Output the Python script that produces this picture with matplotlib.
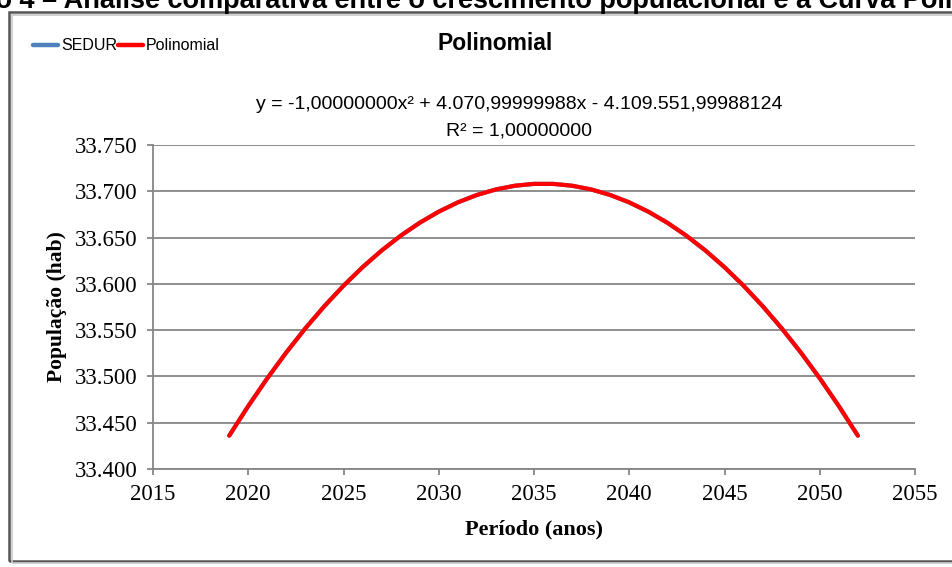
import matplotlib.pyplot as plt
from matplotlib.patches import Rectangle
from matplotlib.ticker import FuncFormatter, MultipleLocator

# Data (projecao populacional por ano)
anos = [2019, 2020, 2021, 2022, 2023, 2024, 2025, 2026, 2027, 2028, 2029, 2030,
        2031, 2032, 2033, 2034, 2035, 2036, 2037, 2038, 2039, 2040, 2041, 2042,
        2043, 2044, 2045, 2046, 2047, 2048, 2049, 2050, 2051, 2052]
sedur = [33436, 33468, 33498, 33526, 33552, 33576, 33598, 33618, 33636, 33652,
         33666, 33678, 33688, 33696, 33702, 33706, 33708, 33708, 33706, 33702,
         33696, 33688, 33678, 33666, 33652, 33636, 33618, 33598, 33576, 33552,
         33526, 33498, 33468, 33436]
polinomial = list(sedur)

equacao = "y = -1,00000000x² + 4.070,99999988x - 4.109.551,99988124"
r2 = "R² = 1,00000000"

serif = ["Liberation Serif", "DejaVu Serif"]
sans = ["Liberation Sans", "DejaVu Sans"]

fig = plt.figure(figsize=(9.52, 5.67), dpi=100)

# cut-off caption above the chart frame
fig.text(-83 / 952, 1 - 8 / 567, "Gráfico 4 – Análise comparativa entre o crescimento populacional e a Curva Polinomial",
         fontsize=19.5, fontweight="bold", family=sans, va="baseline", ha="left")

# chart frame
fig.patches.append(Rectangle((9 / 952, 6 / 567), 1.0, 549 / 567, transform=fig.transFigure,
                             fill=False, edgecolor="#555555", linewidth=1.8))
fig.patches.append(Rectangle((12 / 952, 4 / 567), 1.0, 548 / 567, transform=fig.transFigure,
                             fill=False, edgecolor="#c8c8c8", linewidth=1.2))

ax = fig.add_axes([153 / 952, 98 / 567, 762 / 952, 324 / 567])
ax.plot(anos, sedur, color="#4F81BD", linewidth=3, solid_capstyle="round", zorder=3)
ax.plot(anos, polinomial, color="#FF0000", linewidth=3, solid_capstyle="round", zorder=4)

ax.set_xlim(2015, 2055)
ax.set_ylim(33400, 33750)
ax.xaxis.set_major_locator(MultipleLocator(5))
ax.yaxis.set_major_locator(MultipleLocator(50))
ax.yaxis.set_major_formatter(FuncFormatter(lambda v, p: f"{v:,.0f}".replace(",", ".")))

ax.grid(axis="y", color="#868686", linewidth=1.3)
ax.set_axisbelow(True)
for s in ["top", "right"]:
    ax.spines[s].set_visible(False)
for s in ["left", "bottom"]:
    ax.spines[s].set_color("#868686")
    ax.spines[s].set_linewidth(1.3)
ax.tick_params(color="#868686", width=1.3, length=4, labelsize=16.5, pad=7)
for lab in ax.get_xticklabels() + ax.get_yticklabels():
    lab.set_family(serif)

ax.set_xlabel("Período (anos)", fontsize=16, fontweight="bold", family=serif, labelpad=10)
ax.set_ylabel("População (hab)", fontsize=15.5, fontweight="bold", family=serif, labelpad=6)

# title, equation and legend
fig.text(495 / 952, 1 - 44 / 567, "Polinomial", fontsize=16.5, fontweight="bold", family=sans,
         ha="center", va="center")
fig.text(519 / 952, 1 - 105 / 567, equacao, fontsize=14, family=sans, ha="center", va="center")
fig.text(519 / 952, 1 - 131 / 567, r2, fontsize=14, family=sans, ha="center", va="center")

fig.lines.append(plt.Line2D([33 / 952, 58 / 952], [1 - 45 / 567] * 2, transform=fig.transFigure,
                            color="#4F81BD", linewidth=3.2, solid_capstyle="round"))
fig.text(61 / 952, 1 - 45 / 567, "SEDUR", fontsize=11.5, family=sans, va="center")
fig.lines.append(plt.Line2D([118 / 952, 143 / 952], [1 - 45 / 567] * 2, transform=fig.transFigure,
                            color="#FF0000", linewidth=3.2, solid_capstyle="round"))
fig.text(146 / 952, 1 - 45 / 567, "Polinomial", fontsize=11.5, family=sans, va="center")

fig.savefig("out.png", dpi=100)
